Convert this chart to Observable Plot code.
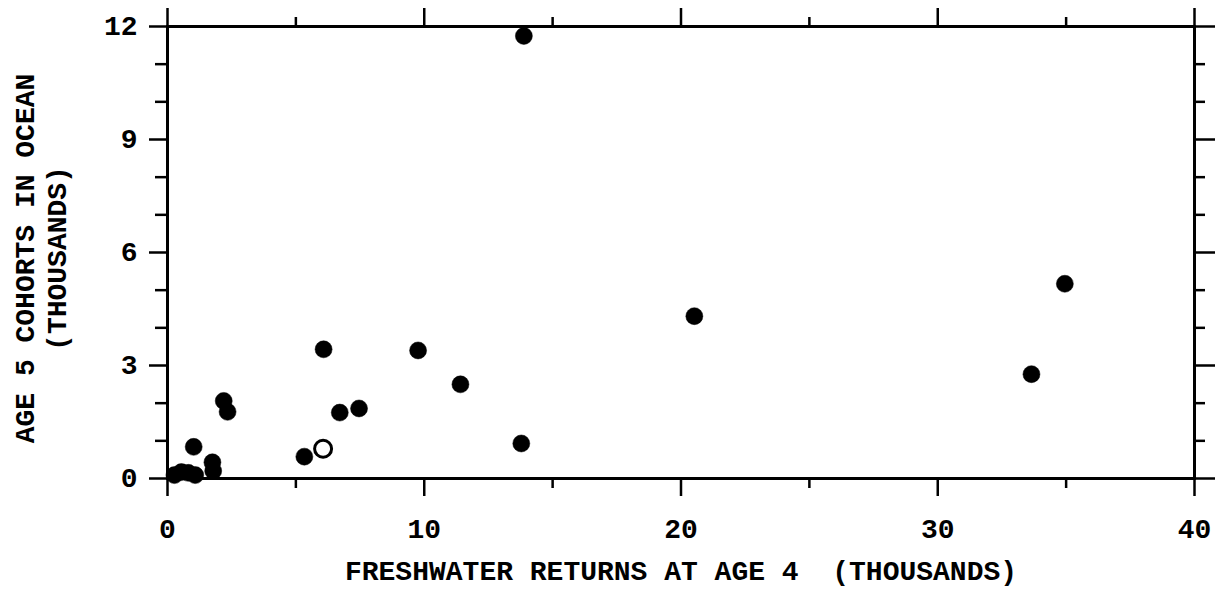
<!DOCTYPE html>
<html>
<head>
<meta charset="utf-8">
<script src="https://cdn.jsdelivr.net/npm/d3@7"></script>
<script src="https://cdn.jsdelivr.net/npm/@observablehq/plot@0.6"></script>
<style>
  html, body { margin: 0; padding: 0; background: #fff; }
</style>
</head>
<body>
<div id="chart"></div>
<script>
// Freshwater returns at age 4 (thousands)
const returnsAge4 = [13.88, 34.95, 20.52, 33.65, 6.08, 9.76, 11.41, 7.46, 6.71, 13.78, 6.06, 5.33, 2.19, 2.34, 1.02, 1.75, 1.78, 0.27, 0.54, 0.81, 1.08];
// Age 5 cohorts in ocean (thousands)
const cohortsAge5 = [11.75, 5.17, 4.31, 2.77, 3.43, 3.40, 2.50, 1.86, 1.75, 0.93, 0.79, 0.58, 2.06, 1.77, 0.84, 0.43, 0.20, 0.09, 0.17, 0.15, 0.09];
// open (hollow) symbol flag
const hollow = [false, false, false, false, false, false, false, false, false, false, true, false, false, false, false, false, false, false, false, false, false];

const xMajorTicks = [0, 10, 20, 30, 40];
const xMinorTicks = [5, 15, 25, 35];
const yMajorTicks = [0, 3, 6, 9, 12];
const yMinorTicks = [1, 2, 4, 5, 7, 8, 10, 11];

const xTitle = ["FRESHWATER RETURNS AT AGE 4  (THOUSANDS)"];
const yTitle1 = ["AGE 5 COHORTS IN OCEAN"];
const yTitle2 = ["(THOUSANDS)"];

const data = returnsAge4.map((x, i) => ({x, y: cohortsAge5[i], open: hollow[i]}));

const blank = () => "";
const FS = 28;

const chart = Plot.plot({
  width: 1225,
  height: 590,
  marginLeft: 167,
  marginRight: 31,
  marginTop: 26,
  marginBottom: 112,
  x: {domain: [0, 40]},
  y: {domain: [0, 12]},
  style: {fontFamily: "'Liberation Mono', 'Courier New', monospace", fontWeight: "bold", fontSize: FS + "px", color: "black", background: "white"},
  marks: [
    // bottom axis
    Plot.axisX({anchor: "bottom", ticks: xMajorTicks, tickSize: 18, tickPadding: 22, fontSize: FS, strokeWidth: 2.5, label: null}),
    Plot.axisX({anchor: "bottom", ticks: xMinorTicks, tickSize: 10, tickFormat: blank, strokeWidth: 2.5, label: null}),
    // top axis
    Plot.axisX({anchor: "top", ticks: xMajorTicks, tickSize: 19, tickFormat: blank, strokeWidth: 2.5, label: null}),
    Plot.axisX({anchor: "top", ticks: xMinorTicks, tickSize: 10, tickFormat: blank, strokeWidth: 2.5, label: null}),
    // left axis
    Plot.axisY({anchor: "left", ticks: yMajorTicks, tickSize: 18, tickPadding: 12, fontSize: FS, strokeWidth: 2.5, label: null}),
    Plot.axisY({anchor: "left", ticks: yMinorTicks, tickSize: 12, tickFormat: blank, strokeWidth: 2.5, label: null}),
    // right axis
    Plot.axisY({anchor: "right", ticks: yMajorTicks, tickSize: 20, tickFormat: blank, strokeWidth: 2.5, label: null}),
    Plot.axisY({anchor: "right", ticks: yMinorTicks, tickSize: 10, tickFormat: blank, strokeWidth: 2.5, label: null}),
    Plot.frame({stroke: "black", strokeWidth: 3}),
    Plot.dot(data, {x: "x", y: "y", r: 8.5, fill: d => d.open ? "white" : "black", stroke: "black", strokeWidth: d => d.open ? 3 : 0.5}),
    Plot.text(xTitle, {text: d => d, frameAnchor: "bottom", textAnchor: "middle", lineAnchor: "middle", dy: 93, fontSize: FS, fontWeight: "bold"}),
    Plot.text(yTitle1, {text: d => d, frameAnchor: "left", textAnchor: "middle", lineAnchor: "middle", rotate: -90, dx: -142, dy: 6, fontSize: FS, fontWeight: "bold"}),
    Plot.text(yTitle2, {text: d => d, frameAnchor: "left", textAnchor: "middle", lineAnchor: "middle", rotate: -90, dx: -110, dy: 6, fontSize: FS, fontWeight: "bold"})
  ]
});

document.getElementById("chart").appendChild(chart);
</script>
</body>
</html>
